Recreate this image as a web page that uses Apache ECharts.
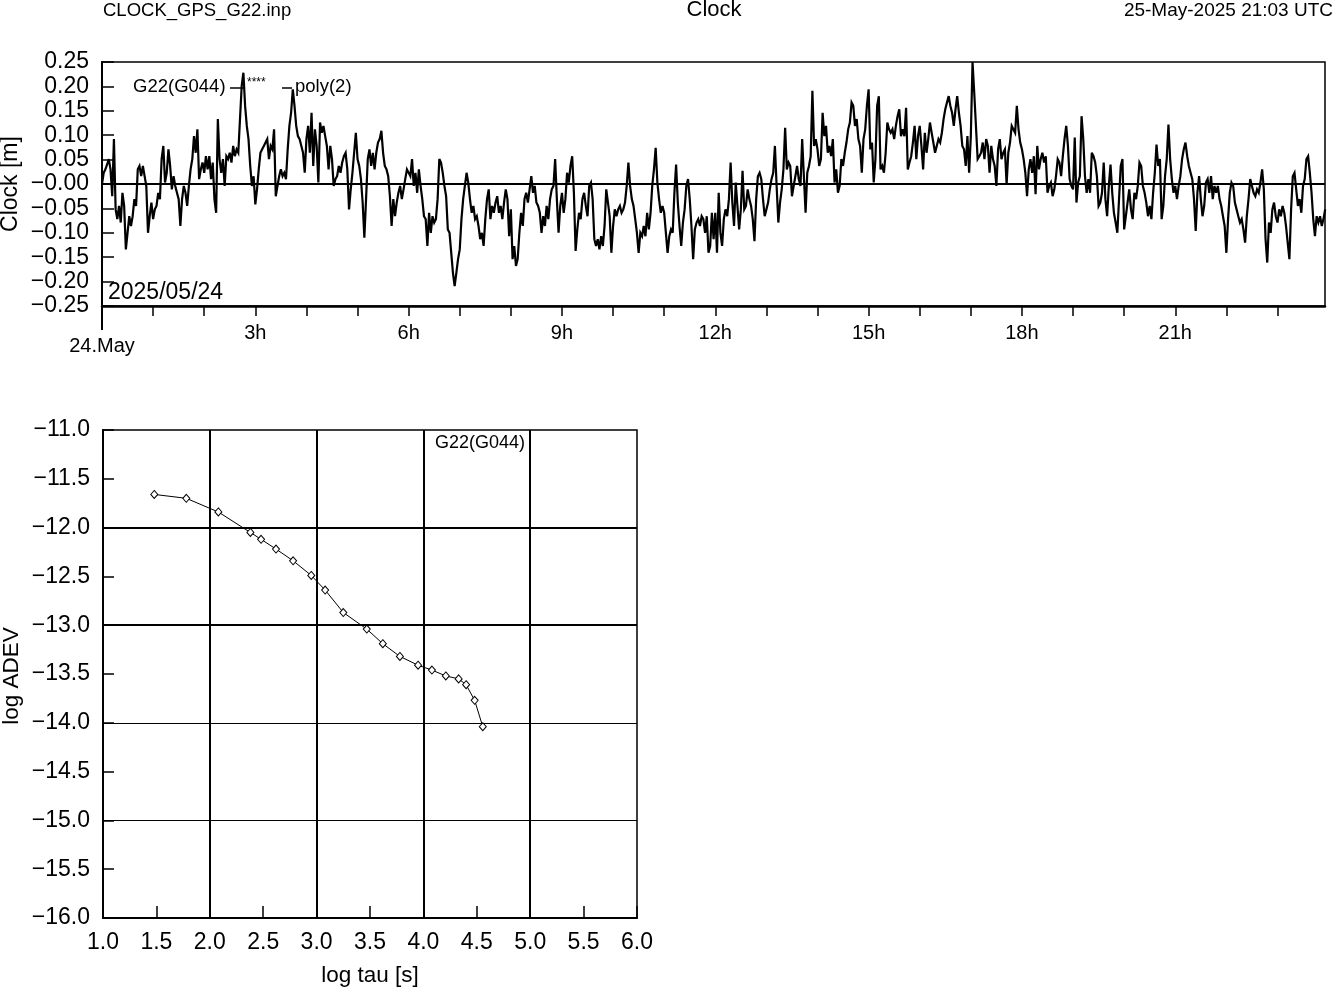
<!DOCTYPE html>
<html><head><meta charset="utf-8">
<script src="https://cdn.jsdelivr.net/npm/echarts@6/dist/echarts.min.js"></script>
<style>html,body{margin:0;padding:0;background:#fff}#c{width:1333px;height:989px}</style>
</head><body><div id="c"></div>
<script>
const FONT = '"Liberation Sans", Arial, Helvetica, sans-serif';

// ---- Clock residuals (m), one sample every 2 minutes from 24.May 00:00, in 4-hour blocks ----
const sampleStepMinutes = 2;
const clock00to04 = [
 0.000, 0.023, 0.030, 0.040, 0.051, 0.030,-0.025, 0.092,-0.052,-0.072,
-0.045,-0.079,-0.018,-0.045,-0.134,-0.100,-0.066,-0.086,-0.066,-0.031,
-0.045, 0.030, 0.037, 0.016, 0.037, 0.016,-0.004,-0.100,-0.066,-0.038,
-0.072,-0.052,-0.045,-0.018,-0.031, 0.051, 0.078, 0.003, 0.023, 0.071,
 0.037,-0.011, 0.016,-0.004,-0.018,-0.031,-0.086,-0.031,-0.004,-0.018,
-0.045,-0.004, 0.030, 0.051, 0.098, 0.064, 0.112, 0.010, 0.030, 0.044,
 0.023, 0.057, 0.030, 0.057, 0.010, 0.044,-0.031,-0.059, 0.133, 0.051,
 0.023, 0.051,-0.004, 0.057, 0.051, 0.064, 0.044, 0.078, 0.057, 0.071,
 0.064, 0.133, 0.201, 0.228, 0.160, 0.119, 0.092, 0.037,-0.004, 0.016,
-0.042,-0.011, 0.030, 0.064, 0.071, 0.078, 0.085, 0.092, 0.051, 0.078,
 0.071, 0.112,-0.025,-0.004, 0.016, 0.030, 0.016, 0.023, 0.010, 0.071,
 0.119, 0.146, 0.194, 0.160, 0.119, 0.098, 0.092, 0.092, 0.064, 0.023
];
const clock04to08 = [
 0.092, 0.119, 0.064, 0.146, 0.037, 0.112, 0.078, 0.003, 0.126, 0.105,
 0.119, 0.098, 0.078, 0.030, 0.078, 0.051,-0.004, 0.010, 0.016, 0.037,
 0.023, 0.044, 0.057, 0.064, 0.030,-0.052,-0.011, 0.023, 0.064, 0.105,
 0.051, 0.037, 0.010,-0.038,-0.110,-0.031, 0.051, 0.071, 0.037, 0.064,
 0.030, 0.064, 0.085, 0.092, 0.109, 0.064, 0.037, 0.030, 0.016,-0.025,
-0.086,-0.031,-0.066,-0.038,-0.018,-0.004,-0.031,-0.011, 0.010, 0.030,
 0.030, 0.016, 0.051,-0.004, 0.023,-0.018, 0.030,-0.004,-0.031,-0.066,
-0.072,-0.127,-0.059,-0.100,-0.066,-0.079,-0.072,-0.031, 0.051, 0.044,
 0.023,-0.004,-0.025,-0.093,-0.100,-0.141,-0.182,-0.209,-0.182,-0.154,
-0.134,-0.072,-0.031,-0.004, 0.023, 0.003,-0.031,-0.059,-0.045,-0.072,
-0.066,-0.086,-0.113,-0.100,-0.127,-0.072,-0.031,-0.011,-0.072,-0.045,
-0.059,-0.038,-0.025,-0.059,-0.045,-0.072,-0.038,-0.011,-0.031,-0.107
];
const clock08to12 = [
-0.052,-0.154,-0.127,-0.168,-0.154,-0.100,-0.059,-0.086,-0.031,-0.018,
-0.038,-0.011, 0.016,-0.018,-0.004,-0.038,-0.045,-0.059,-0.100,-0.066,
-0.086,-0.045,-0.072,-0.031,-0.011,-0.004, 0.051,-0.031,-0.100,-0.045,
-0.018,-0.059,-0.031, 0.023, 0.003, 0.037, 0.057,-0.018,-0.137,-0.093,
-0.059,-0.072,-0.031,-0.018,-0.045,-0.066,-0.004, 0.003,-0.031,-0.113,
-0.127,-0.113,-0.134,-0.107,-0.127,-0.086,-0.011,-0.038,-0.066,-0.141,
-0.086,-0.052,-0.066,-0.052,-0.045,-0.059,-0.052,-0.038,-0.004, 0.044,
-0.004,-0.031,-0.045,-0.072,-0.100,-0.141,-0.100,-0.107,-0.086,-0.107,
-0.059,-0.093,-0.059,-0.004, 0.030, 0.074, 0.003,-0.031,-0.059,-0.045,
-0.059,-0.100,-0.141,-0.107,-0.093,-0.100,-0.018, 0.040,-0.038,-0.086,
-0.127,-0.079,-0.052,-0.004, 0.010,-0.031,-0.086,-0.154,-0.093,-0.079,
-0.072,-0.086,-0.066,-0.072,-0.100,-0.066,-0.141,-0.127,-0.059,-0.113
];
const clock12to16 = [
-0.059,-0.141,-0.018,-0.100,-0.127,-0.072,-0.052,-0.066,-0.031, 0.044,
-0.038,-0.086, 0.003,-0.045,-0.093,-0.052, 0.027,-0.052,-0.045,-0.011,
-0.031,-0.045,-0.072,-0.117,-0.031, 0.016, 0.023, 0.010,-0.031,-0.066,
-0.052,-0.038,-0.011, 0.010, 0.023, 0.078,-0.004,-0.079,-0.038,-0.011,
 0.030, 0.115, 0.030, 0.044, 0.037,-0.025,-0.004, 0.016, 0.037, 0.010,
-0.004, 0.092, 0.016,-0.059, 0.023, 0.037, 0.057, 0.191, 0.078, 0.092,
 0.071, 0.037, 0.051, 0.146, 0.098, 0.119, 0.064, 0.078, 0.057, 0.092,
 0.003, 0.030,-0.018,-0.004, 0.051, 0.037, 0.064, 0.085, 0.112, 0.126,
 0.167, 0.160, 0.119, 0.133, 0.092, 0.078, 0.023, 0.092, 0.112, 0.160,
 0.194, 0.071, 0.085, 0.003, 0.051, 0.160, 0.180, 0.030, 0.037, 0.023,
 0.064, 0.126, 0.112, 0.105, 0.112, 0.092, 0.119, 0.139, 0.153, 0.098,
 0.112, 0.098, 0.156, 0.030, 0.044, 0.057, 0.085, 0.119, 0.051, 0.098
];
const clock16to20 = [
 0.119, 0.078, 0.030, 0.105, 0.064, 0.092, 0.126, 0.105, 0.085, 0.064,
 0.078, 0.092, 0.085, 0.105, 0.133, 0.153, 0.167, 0.180, 0.160, 0.146,
 0.119, 0.153, 0.180, 0.146, 0.119, 0.078, 0.071, 0.037, 0.098, 0.023,
 0.098, 0.250, 0.187, 0.119, 0.051, 0.057, 0.064, 0.085, 0.051, 0.092,
 0.078, 0.023, 0.078, 0.051, 0.037,-0.004, 0.071, 0.092, 0.051, 0.064,
 0.071,-0.001, 0.064, 0.085, 0.119, 0.122, 0.105, 0.160, 0.112, 0.085,
 0.071, 0.051, 0.023,-0.025, 0.030, 0.051, 0.023, 0.057,-0.021, 0.078,
 0.030, 0.051, 0.064, 0.044, 0.057,-0.018,-0.004, 0.003,-0.025,-0.011,
 0.016, 0.051, 0.044, 0.016, 0.057, 0.092, 0.119, 0.078, 0.010,-0.004,
-0.011, 0.095,-0.038, 0.003, 0.016, 0.139, 0.092, 0.016,-0.018, 0.010,
-0.018, 0.064, 0.057, 0.044, 0.016,-0.045,-0.038,-0.018, 0.044,-0.031,
-0.066,-0.004, 0.040,-0.018,-0.059,-0.079,-0.100,-0.031, 0.037, 0.051
];
const clock20to24 = [
-0.093,-0.066,-0.038,-0.011,-0.052,-0.072,-0.018,-0.031,-0.004, 0.044,
 0.037,-0.004,-0.018,-0.038,-0.066,-0.045,-0.072,-0.018, 0.023, 0.081,
 0.037, 0.051,-0.072,-0.045, 0.016, 0.051, 0.122, 0.051, 0.010,-0.018,
-0.004,-0.031,-0.004, 0.016, 0.051, 0.071, 0.085, 0.057, 0.037, 0.023,
 0.010,-0.031,-0.096,-0.018, 0.016,-0.031,-0.066,-0.045, 0.003, 0.010,
-0.018, 0.016,-0.031,-0.004,-0.018,-0.004,-0.031,-0.045,-0.066,-0.086,
-0.141,-0.072,-0.018, 0.003,-0.004,-0.038,-0.052,-0.066,-0.079,-0.072,
-0.093,-0.120,-0.066,-0.031, 0.010,-0.004,-0.018,-0.025,-0.011,-0.018,
 0.003, 0.030,-0.011,-0.113,-0.161,-0.079,-0.100,-0.052,-0.038,-0.066,
-0.079,-0.052,-0.066,-0.045,-0.059,-0.086,-0.120,-0.154,-0.052, 0.016,
 0.023,-0.011,-0.045,-0.031,-0.059,-0.004, 0.010, 0.051, 0.057, 0.023,
-0.018,-0.072,-0.107,-0.066,-0.079,-0.066,-0.086,-0.072,-0.052
];
const clockHourLabels = [3, 6, 9, 12, 15, 18, 21];   // labelled hours
const clockDayLabel = '24.May';
const clockDateText = '2025/05/24';

// ---- Allan deviation ----
const logTau  = [1.48, 1.78, 2.08, 2.38, 2.48, 2.62, 2.78, 2.95, 3.08, 3.25,
                 3.47, 3.62, 3.78, 3.95, 4.08, 4.21, 4.33, 4.40, 4.48, 4.556];
const logAdev = [-11.66, -11.70, -11.84, -12.05, -12.12, -12.22, -12.34, -12.49, -12.64, -12.87,
                 -13.04, -13.19, -13.32, -13.41, -13.46, -13.52, -13.55, -13.61, -13.77, -14.04];
const adevGridX = [2, 3, 4, 5];
const adevGridY = [-12, -13, -14, -15];
const adevGridYWidth = [2, 2, 1, 1];

const clockValues = [].concat(clock00to04, clock04to08, clock08to12, clock12to16, clock16to20, clock20to24);
const clockData = clockValues.map((v, i) => [i * sampleStepMinutes / 60, v]);
const adevData = logTau.map((t, i) => [t, logAdev[i]]);
const MINUS = '\u2212';

const chart = echarts.init(document.getElementById('c'), null, {renderer: 'canvas'});
const black = '#000';
const lbl = (size, extra) => Object.assign({color: black, fontFamily: FONT, fontSize: size}, extra || {});

chart.setOption({
  animation: false,
  backgroundColor: '#fff',
  grid: [
    {left: 102, top: 62, width: 1223, height: 244, show: true, borderColor: black, borderWidth: 1.5, backgroundColor: 'transparent'},
    {left: 103, top: 430, width: 534, height: 488, show: true, borderColor: black, borderWidth: 1.5, backgroundColor: 'transparent'}
  ],
  xAxis: [
    {
      type: 'value', gridIndex: 0, min: 0, max: 23.93, interval: 1,
      axisLine: {onZero: false, lineStyle: {color: black, width: 2.5}},
      axisTick: {inside: false, length: 10, lineStyle: {color: black, width: 1.5}},
      splitLine: {show: false},
      axisLabel: lbl(20, {
        margin: 17,
        showMaxLabel: false,
        formatter: v => {
          const r = Math.round(v);
          if (Math.abs(v - r) > 1e-6) return '';
          if (r === 0) return '{d|' + clockDayLabel + '}';
          return clockHourLabels.includes(r) ? r + 'h' : '';
        },
        rich: {d: lbl(20, {padding: [13, 0, 0, 0]})}
      })
    },
    {
      type: 'value', gridIndex: 1, min: 1, max: 6, interval: 0.5,
      axisLine: {onZero: false, lineStyle: {color: black, width: 2}},
      axisTick: {inside: true, length: 12, lineStyle: {color: black, width: 1.5}},
      splitLine: {show: false},
      axisLabel: lbl(23, {margin: 13, formatter: v => v.toFixed(1)})
    }
  ],
  yAxis: [
    {
      type: 'value', gridIndex: 0, min: -0.25, max: 0.25, interval: 0.05,
      axisLine: {onZero: false, lineStyle: {color: black, width: 2}},
      axisTick: {inside: true, length: 12, lineStyle: {color: black, width: 1.5}},
      splitLine: {show: false},
      axisLabel: lbl(23, {margin: 13, formatter: v => (v <= 1e-9 ? MINUS : '') + Math.abs(v).toFixed(2)})
    },
    {
      type: 'value', gridIndex: 1, min: -16, max: -11, interval: 0.5,
      axisLine: {onZero: false, lineStyle: {color: black, width: 2}},
      axisTick: {inside: true, length: 11, lineStyle: {color: black, width: 1.5}},
      splitLine: {show: false},
      axisLabel: lbl(23, {margin: 13, formatter: v => MINUS + Math.abs(v).toFixed(1)})
    }
  ],
  series: [
    {
      type: 'line', xAxisIndex: 0, yAxisIndex: 0, data: clockData,
      showSymbol: false, symbol: 'none', clip: true, sampling: null,
      lineStyle: {color: black, width: 2.2, join: 'miter', miterLimit: 4}, z: 3,
      markLine: {
        silent: true, symbol: 'none', label: {show: false},
        lineStyle: {color: black, width: 2, type: 'solid'},
        data: [{yAxis: 0}]
      }
    },
    {
      type: 'line', xAxisIndex: 1, yAxisIndex: 1, data: [], z: 1,
      markLine: {
        silent: true, symbol: 'none', label: {show: false}, animation: false,
        data: adevGridX.map(x => ({xAxis: x, lineStyle: {color: black, width: 2, type: 'solid'}}))
          .concat(adevGridY.map((y, i) => ({yAxis: y, lineStyle: {color: black, width: adevGridYWidth[i], type: 'solid'}})))
      }
    },
    {
      type: 'line', xAxisIndex: 1, yAxisIndex: 1, data: adevData, z: 4,
      symbol: 'diamond', symbolSize: [7, 8], showSymbol: true,
      itemStyle: {color: '#fff', borderColor: black, borderWidth: 1},
      lineStyle: {color: black, width: 1}
    }
  ],
  graphic: [
    {type: 'text', left: 103, top: 1, style: {text: 'CLOCK_GPS_G22.inp', font: '18.5px ' + FONT, fill: black}},
    {type: 'text', x: 714, y: 10, style: {text: 'Clock', font: '22px ' + FONT, fill: black, textAlign: 'center', textVerticalAlign: 'middle'}},
    {type: 'text', x: 1333, y: 11, style: {text: '25-May-2025 21:03 UTC', font: '19px ' + FONT, fill: black, textAlign: 'right', textVerticalAlign: 'middle'}},
    {type: 'text', x: 11, y: 184, rotation: Math.PI / 2, style: {text: 'Clock [m]', font: '23px ' + FONT, fill: black, textAlign: 'center', textVerticalAlign: 'middle'}},
    {type: 'text', x: 108, y: 293, style: {text: clockDateText, font: '23px ' + FONT, fill: black, textVerticalAlign: 'middle'}, z: 10},
    {type: 'text', x: 133, y: 87, style: {text: 'G22(G044)', font: '18.5px ' + FONT, fill: black, textVerticalAlign: 'middle'}, z: 10},
    {type: 'line', shape: {x1: 230, y1: 88, x2: 244, y2: 88}, style: {stroke: black, lineWidth: 1.5}, z: 10},
    {type: 'text', x: 247, y: 83, style: {text: '****', font: '12px ' + FONT, fill: black, textVerticalAlign: 'middle'}, z: 10},
    {type: 'line', shape: {x1: 282, y1: 88, x2: 292, y2: 88}, style: {stroke: black, lineWidth: 1.5}, z: 10},
    {type: 'text', x: 295, y: 87, style: {text: 'poly(2)', font: '18.5px ' + FONT, fill: black, textVerticalAlign: 'middle'}, z: 10},
    {type: 'line', shape: {x1: 102, y1: 306, x2: 102, y2: 330}, style: {stroke: black, lineWidth: 2}, z: 10},
    {type: 'text', x: 12, y: 676, rotation: Math.PI / 2, style: {text: 'log ADEV', font: '22.5px ' + FONT, fill: black, textAlign: 'center', textVerticalAlign: 'middle'}},
    {type: 'text', x: 370, y: 976, style: {text: 'log tau [s]', font: '22.5px ' + FONT, fill: black, textAlign: 'center', textVerticalAlign: 'middle'}},
    {type: 'text', x: 480, y: 443, style: {text: 'G22(G044)', font: '18px ' + FONT, fill: black, textAlign: 'center', textVerticalAlign: 'middle'}, z: 10}
  ]
});
</script>
</body></html>
